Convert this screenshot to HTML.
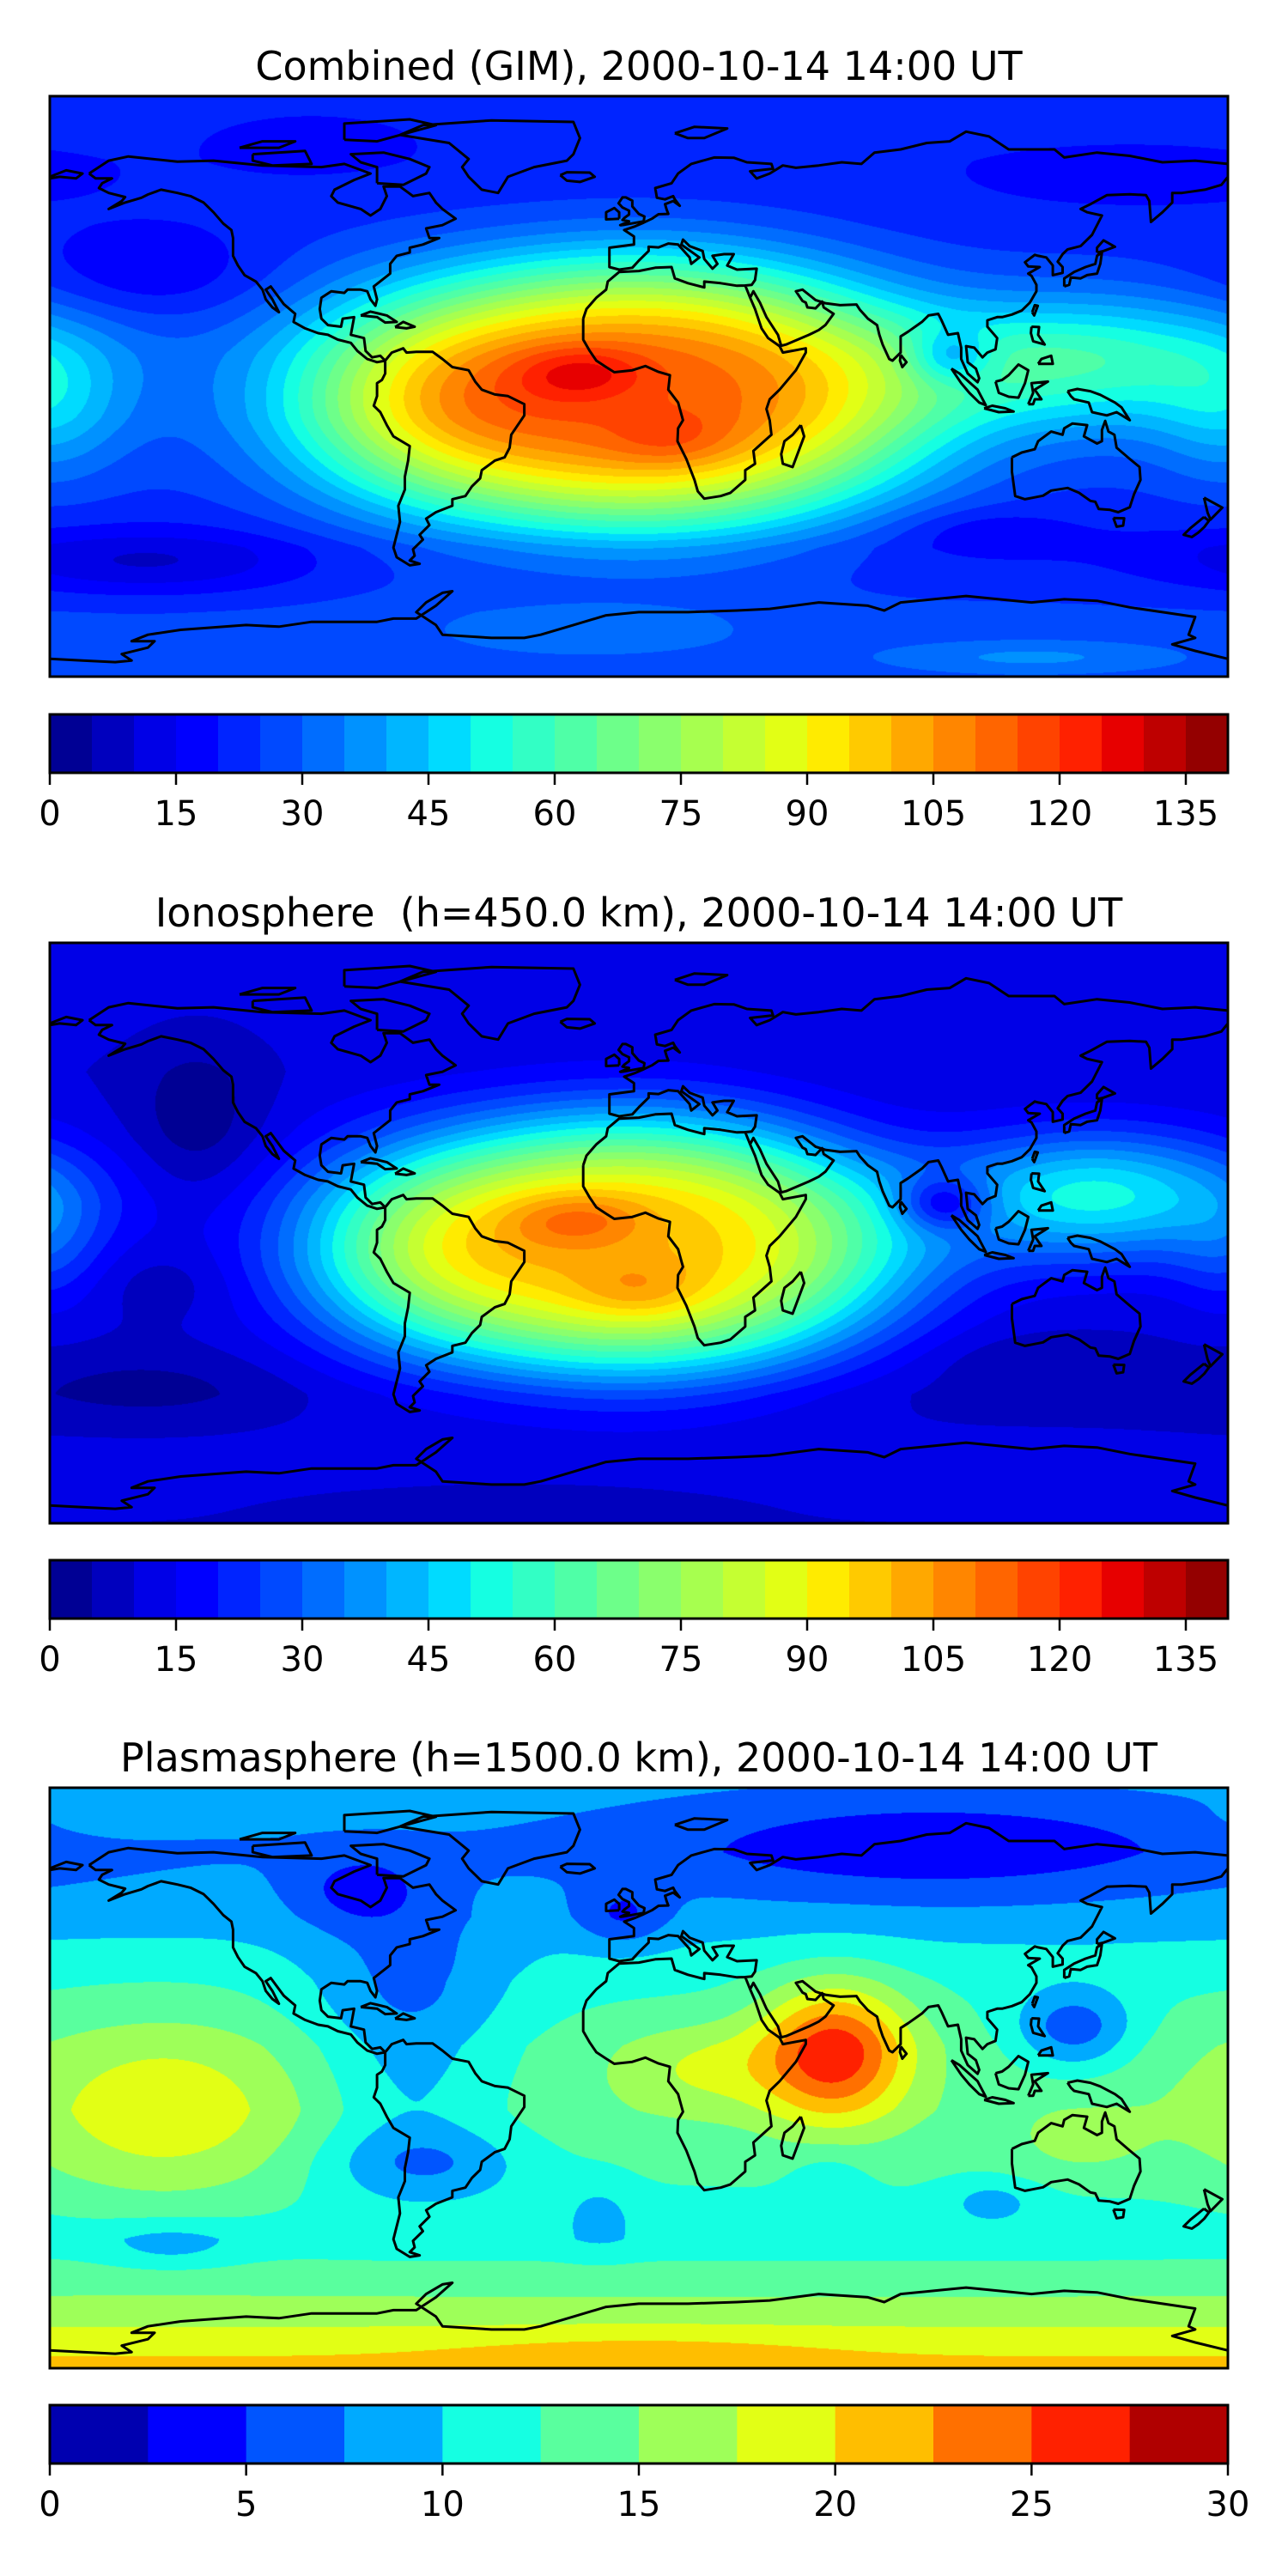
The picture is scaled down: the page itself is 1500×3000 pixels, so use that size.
<!DOCTYPE html>
<html><head><meta charset="utf-8">
<style>
html,body{margin:0;padding:0;background:#fff;}
body{width:1500px;height:3000px;position:relative;overflow:hidden;font-family:"DejaVu Sans","Liberation Sans",sans-serif;}
.title{position:absolute;left:58px;width:1372px;text-align:center;font-size:46px;color:#000;line-height:1;white-space:pre;}
.map{position:absolute;left:58px;width:1372px;height:676px;}
.map canvas{position:absolute;left:0;top:0;}
.map svg{position:absolute;left:0;top:0;overflow:visible;}
.cb{position:absolute;left:28px;overflow:visible;}
</style></head>
<body>
<div class="title" style="top:54px">Combined (GIM), 2000-10-14 14:00 UT</div>
<div class="map" id="m1" style="top:112px"></div>
<svg class="cb" id="cb1" style="top:830px" width="1460" height="150"></svg>

<div class="title" style="top:1040px">Ionosphere  (h=450.0 km), 2000-10-14 14:00 UT</div>
<div class="map" id="m2" style="top:1098px"></div>
<svg class="cb" id="cb2" style="top:1815px" width="1460" height="150"></svg>

<div class="title" style="top:2024px">Plasmasphere (h=1500.0 km), 2000-10-14 14:00 UT</div>
<div class="map" id="m3" style="top:2082px"></div>
<svg class="cb" id="cb3" style="top:2799px" width="1460" height="150"></svg>

<script>
// ---------- data ----------
const profileLats = [90,70,50,30,10,-10,-30,-50,-70,-90];
// Combined (GIM)
const gimProfile = [22,21,22,24,27,27,24,20,26,26];
const gimBumpLon = [0,-18,10,-75,135,95,-180,-150,-150,105,150,-100,-15,120];
const gimBumpLat = [-3,4,-17,-5,8,9,-8,35,-55,-45,65,75,-76,-84];
const gimBumpAmp = [86,14,8,18,32,-22,14,-8,-12,-6,-5,-5,8,10];
const gimBumpSx  = [70,14,14,30,38,9,16,25,35,18,30,20,35,35];
const gimBumpSy  = [33,6,6,25,14,6,16,10,7,5,6,6,6,4];
const gimBumpPow = [1.5,1,1,1,1,1,1,1,1,1,1,1,1,1];
// Ionosphere
const ionProfile = [14,12,10,10,12,12,10,8,12,10];
const ionBumpLon = [-3,-19,0,-75,140,93,-180,-135,-145,-150,120,-40];
const ionBumpLat = [-4,4,-18,-5,12,9,-5,35,-15,-48,-40,-85];
const ionBumpAmp = [86,14,10,18,40,-25,10,-9,-5,-5,-4,-4];
const ionBumpSx  = [66,15,14,28,34,10,12,14,15,30,20,40];
const ionBumpSy  = [32,6,7,25,14,6,15,18,8,8,6,5];
const ionBumpPow = [1.5,1,1,1,1,1,1,1,1,1,1,1];
// Plasmasphere
const plaProfile = [8.5,7.5,9,11.8,13.6,14,12.8,11,15.5,21];
const plaBumpLon = [60,20,-145,90,-85,-5,-70,-65,-70,133,-12,58,108,-143,-158,0,135];
const plaBumpLat = [8,3,-11,72,58,50,25,-27,-10,15,-42,-33,-38,-52,81,-86,-20];
const plaBumpAmp = [13,4,5.5,-4.5,-4,-4,-5,-4.5,-3,-7,-2.5,-2.5,-3,-3,2.5,2,2.5];
const plaBumpSx  = [16,20,30,60,14,10,22,22,20,13,8,8,10,15,15,40,15];
const plaBumpSy  = [15,10,20,12,8,7,18,8,15,9,8,7,5,5,4,5,8];
const plaBumpPow = [1,1,1,1,1,1,1,1,1,1,1,1,1,1,1,1,1];

const gimTicks = [0,15,30,45,60,75,90,105,120,135];
const plaTicks = [0,5,10,15,20,25,30];

// ---------- coastlines (lon,lat) ----------
const coasts = [
[[-168,66],[-162,70],[-156,71.3],[-141,69.7],[-130,70],[-115,68.5],[-97,68],[-90,69],[-82,66],[-87,64],[-93,61],[-94,59],[-92,57],[-85,55],[-82,53],[-79,55],[-77,59],[-78,62],[-73,62],[-69,59],[-64,60],[-62,57],[-60,55],[-56,52],[-60,50],[-65,49],[-64,46],[-61,46],[-66,44],[-70,43],[-70,41.5],[-74,40.5],[-76,38],[-76,35],[-81,31],[-80,27],[-80.5,25],[-82,27],[-83,29.5],[-85,30],[-89,30],[-90,29],[-94,29.5],[-97,27.5],[-97.5,24],[-97,21],[-95,19],[-91,18.5],[-90.5,21],[-87,21.5],[-88,16],[-84,15],[-83.5,11],[-81.5,9],[-79,9.5],[-77.5,8],[-80,7.5],[-83,8.5],[-86,11],[-88,13.5],[-92,14.5],[-95,16],[-98,16.5],[-102,18],[-105.5,20],[-105,22.5],[-108.5,25.5],[-112.5,31],[-114,30],[-112,27],[-110,23],[-112,24.5],[-114,27],[-115,30],[-117,32.5],[-120.5,34.5],[-122.5,37.5],[-124,40.5],[-124,46],[-124.5,48.5],[-127,50.5],[-130,54],[-133,57],[-137,59],[-141,60],[-146,61],[-150,59.5],[-152,58.5],[-157,57],[-162,55],[-158,57.5],[-157,58.7],[-162,60],[-165,61.5],[-164,63],[-161,64.5],[-166,64.5],[-168,66]],
[[-80,63],[-72,62.5],[-65,66],[-64,68],[-70,70.5],[-78,72.5],[-88,72],[-85,69.5],[-80,68],[-80,63]],
[[-118,72],[-102,73],[-100,69],[-112,68.5],[-118,70],[-118,72]],
[[-90,76.5],[-80,76],[-62,81],[-70,82.8],[-90,81.5],[-90,76.5]],
[[-122,74],[-115,76],[-105,76],[-110,74],[-122,74]],
[[-73,78],[-66,81],[-45,82.5],[-20,82],[-18,77],[-20,72],[-22,70],[-32,68],[-40,65],[-43,60],[-48,61],[-52,65],[-54,68],[-52,70.5],[-58,75.5],[-73,78]],
[[-24,65.5],[-22,66.4],[-15,66.3],[-13.5,65],[-18,63.4],[-22,63.8],[-24,65.5]],
[[-77.5,8],[-75.5,10.5],[-72,11.8],[-71,10.5],[-68,10.7],[-63,10.7],[-60,8.5],[-57,6],[-52,5],[-50,1.5],[-48,-1],[-44,-2.5],[-40,-3],[-35,-5.5],[-35,-9],[-37,-12],[-39,-15],[-39.5,-19],[-41,-22],[-44,-23],[-48,-26],[-48.5,-28.5],[-51,-31],[-53,-34],[-57,-35],[-57,-37],[-62,-39],[-65,-41],[-64,-43],[-67,-46],[-66,-47.5],[-69,-50.5],[-68.5,-52.5],[-70,-54],[-67,-55],[-70,-55.5],[-74,-53],[-75,-50],[-74,-46],[-73,-42],[-73.5,-37],[-71.5,-32],[-71.5,-28],[-70.5,-23],[-70,-18.5],[-75,-15.5],[-77,-12],[-79,-8],[-81,-6],[-80,-3],[-80,-1],[-80,1],[-78.5,2],[-77.5,4],[-77.5,7],[-77.5,8]],
[[-17,21],[-16,24],[-13,27.5],[-10,30],[-9.5,32.5],[-6,35.5],[0,35.8],[5,36.8],[10,37],[11,33.5],[15,32],[20,30.7],[20,32.5],[25,32],[30,31.2],[32.5,31.3],[34,27.5],[35.5,24],[37.5,18],[39.5,15],[43,12.5],[44,10.5],[51,11.8],[51,10.5],[48,5],[43,-1],[40,-4],[39,-7],[40,-10.5],[40.5,-15],[35,-20],[35.5,-24],[32.5,-26],[32.5,-29],[28,-33],[25,-34],[20,-34.8],[18,-32.5],[17,-29],[14.5,-22.5],[11.8,-17],[12,-13],[13.5,-10.5],[12,-5],[9,-1],[9.5,3.5],[6,4.5],[2,6.3],[-2,5],[-7.5,4.4],[-10,6],[-13,8],[-15,11],[-17,14.5],[-17,21]],
[[49.5,-12],[50.5,-15.5],[47,-25],[44,-24],[43.5,-21],[44.5,-17],[47,-15],[49.5,-12]],
[[180,69],[170,70],[160,69.5],[150,71.5],[140,72.5],[130,71],[127,73.5],[113,73.5],[107,77.5],[100,79],[95,76],[88,75.5],[80,73.5],[72,72.5],[68,69],[62,69.5],[55,68.5],[48,67.8],[44,68.5],[40,66],[36,64.5],[34,66.7],[41,67.5],[40.5,69],[33,69.5],[29,70.9],[23,71],[16,69],[12,66],[10,63],[5,61.5],[5.5,58.5],[8,58],[10.5,59],[11,58],[12.5,56],[10.5,57.5],[8,56.5],[8.5,54.8],[9,53.5],[6,53.4],[4,52],[1.5,50.8],[-1.5,49.5],[-4.5,48.5],[-1.5,46.5],[-1.5,44],[-9,43],[-9,39],[-9,37],[-6,36.2],[-2,36.8],[0,39],[3,42],[3,43.3],[6,43.1],[9,44.3],[12,44],[15.5,40],[16,38],[18.5,40],[13,44],[13.5,45.5],[15.5,43.5],[19.5,42],[20,39.5],[22.5,36.5],[24,38],[22.5,40.5],[26,41],[29,41],[27,37.5],[30,36.2],[36,36.5],[35.5,33],[34.5,31.5],[32.5,31.3],[34,27.5],[35,29.5],[37,26],[39,21.5],[42.5,16],[43.5,12.6],[45,13],[52,16],[55,17.5],[57,19],[59.5,22.5],[56.5,24.5],[56,26.3],[54,24.2],[51.5,24.5],[51,26],[50,26.5],[48,29.5],[50,30],[54,26.8],[57,25.8],[61.5,25.2],[66.5,25.4],[67.5,23.8],[70,21],[72.8,19],[73.5,16],[74.5,13],[76.5,8.5],[77.5,8],[80,10.5],[80,15.5],[82.3,17],[86.5,20],[88.5,22],[91.5,22.5],[92.5,20.5],[94.5,16],[97.5,16.5],[98.5,12],[98.5,8.5],[100.5,4],[103.5,1.3],[104,2.5],[103,5.5],[100.5,7.5],[100,12.5],[102.5,12],[105,9],[106.5,10.5],[109,11.5],[109.5,15],[106.5,18.5],[106.5,20.5],[109.5,21.5],[111,21.5],[114,22.3],[117,23.5],[119.5,26],[121.5,29.5],[121.5,31.5],[120,34.3],[119,35],[122.5,37],[119,37.2],[118,38.5],[121,40.8],[122,40.5],[124.5,40],[126.5,37.5],[126.5,34.5],[129.5,35.2],[129.5,37],[128,38.7],[129.5,41],[131,42.5],[135,43.5],[138.5,47],[140.5,51],[141.5,53],[137,54],[135,55],[138,56.5],[143,59.3],[150,59.6],[155,59.3],[156,57.5],[156.5,51],[160,54],[163,57],[163,60],[166,60],[173,61],[178,62.5],[180,65]],
[[-180,65],[-175,67],[-170,66],[-172,64.5],[-177,65],[-180,64.5]],
[[-5,50],[1.5,51.2],[1.7,52.7],[0,53.5],[-2,55.8],[-2,57.6],[-4,58.6],[-5,58.6],[-6.2,56.8],[-5,55.5],[-3,54.5],[-3,53.3],[-4.5,52.2],[-5,51.6],[-3,51.2],[-5.7,50],[-5,50]],
[[-6,52],[-6,54],[-7.5,55.3],[-10,54],[-10,51.8],[-6,52]],
[[11,78.5],[17,80.5],[27,80],[20,77],[15,77],[11,78.5]],
[[130,31],[131.5,31.5],[132,33.8],[135,33.5],[137,34.5],[140,35],[141,38],[141.5,41.5],[140,40.5],[139.5,38],[136.5,37],[133,35.5],[130,33.5],[130,31]],
[[140,41.5],[142,42],[145.5,43.3],[142,45.3],[140,43],[140,41.5]],
[[109,1.5],[111,2],[113,3.5],[116,6.8],[119,5],[118,1],[116,-3.5],[113,-3.2],[110,-2],[109,1.5]],
[[95.5,5.5],[98,4],[103.5,-1],[106,-5.8],[104,-5],[101,-2],[98.5,1],[95.5,5.5]],
[[105.5,-6.8],[108,-6],[112,-6.8],[114.5,-7.8],[110,-8],[105.5,-6.8]],
[[119,-5.5],[120.5,-2],[120,1],[125,1.5],[121,-1],[123,-4],[121,-4],[120.5,-5.5],[119,-5.5]],
[[131,-1.5],[134,-0.8],[138,-1.5],[141,-2.6],[145.5,-5],[147.5,-6.5],[150,-10.5],[146,-8],[143,-9],[138.5,-8],[137.5,-5],[133,-4],[132,-3],[131,-1.5]],
[[120,18.5],[122.3,18.4],[122,16],[124,13],[120.5,14],[119.8,16.5],[120,18.5]],
[[122,7],[126.5,7],[126,9.5],[123,8.5],[122,7]],
[[120.2,23],[121,25.2],[121.9,25],[120.8,22],[120.2,23]],
[[80,9.8],[81.8,7.5],[80.5,6],[79.8,8],[80,9.8]],
[[114,-22],[114,-26.5],[115,-34],[118,-35],[123.5,-33.9],[126,-32.3],[131,-31.5],[134.5,-33],[138,-35.5],[139.5,-35.8],[140.5,-38],[144,-38.3],[146.5,-39],[150,-37.5],[151.3,-33.5],[153.3,-29],[153,-25],[150,-22.5],[146,-19],[145.3,-15],[143.5,-14],[142.5,-10.7],[141.5,-13.5],[141.5,-17],[140,-17.7],[136,-15.5],[137,-12],[132.5,-11.5],[130,-13],[129.5,-15],[126,-14],[122,-17],[121,-19.5],[117,-20.5],[114,-22]],
[[145,-40.8],[148.3,-40.9],[148,-43.2],[146,-43.5],[145,-40.8]],
[[172.7,-34.5],[178.3,-37.6],[174.7,-41.3],[173.8,-39.2],[172.7,-34.5]],
[[172.7,-40.5],[174.2,-41.7],[172.8,-43.6],[171,-45.3],[169,-46.7],[166.5,-46],[168.5,-44],[172.7,-40.5]],
[[-85,22],[-82,23.2],[-77,22],[-74,20],[-77.5,19.8],[-80,21.5],[-85,22]],
[[-74.5,18.4],[-72,20],[-68.5,18.5],[-71,18],[-74.5,18.4]],
[[-180,-84.5],[-170,-85],[-160,-85.5],[-155,-85],[-158,-83],[-150,-81],[-148,-79],[-155,-79],[-150,-77],[-140,-75.5],[-120,-74],[-110,-74.5],[-100,-73],[-90,-73],[-80,-73],[-75,-72],[-68,-72],[-62,-68],[-57,-63.5],[-60,-64],[-65,-67],[-68,-70],[-62,-74],[-60,-77],[-45,-78],[-35,-78],[-30,-77],[-20,-74],[-10,-71],[0,-70],[15,-70],[30,-69.5],[40,-69],[55,-67],[70,-68],[75,-69.5],[80,-67],[90,-66],[100,-65],[110,-66],[120,-67],[130,-66],[140,-66.5],[150,-68.5],[160,-70],[170,-71.5],[168,-77],[170,-78],[163,-80],[170,-82],[180,-84.5]]
];

// ---------- helpers ----------
function jet(t){
  function seg(pts){for(let i=1;i<pts.length;i++){if(t<=pts[i][0]){const a=pts[i-1],b=pts[i];return a[1]+(b[1]-a[1])*(t-a[0])/(b[0]-a[0]);}}return pts[pts.length-1][1];}
  const r=seg([[0,0],[0.35,0],[0.66,1],[0.89,1],[1,0.5]]);
  const g=seg([[0,0],[0.125,0],[0.375,1],[0.64,1],[0.91,0],[1,0]]);
  const b=seg([[0,0.5],[0.11,1],[0.34,1],[0.65,0],[1,0]]);
  return [Math.round(r*255),Math.round(g*255),Math.round(b*255)];
}
function levelColors(n){const c=[];for(let i=0;i<n;i++)c.push(jet((i+0.5)/n));return c;}
function profileAt(lat,prof){
  for(let i=1;i<profileLats.length;i++){if(lat>=profileLats[i]){const a=profileLats[i-1],b=profileLats[i];return prof[i-1]+(prof[i]-prof[i-1])*(lat-a)/(b-a);}}
  return prof[prof.length-1];
}
const W=1372,H=676;
function drawMap(id,prof,bl,bt,ba,bsx,bsy,bp,vmax,n,name){
  const host=document.getElementById(id);
  const cv=document.createElement('canvas');cv.width=W;cv.height=H;
  
  
  host.appendChild(cv);
  const ctx=cv.getContext('2d');const img=ctx.createImageData(W,H);const d=img.data;
  const cols=levelColors(n);const step=vmax/n;
  const nb=bl.length;
  const dx2=new Float32Array(nb*W);
  for(let x=0;x<W;x++){const lon=-180+(x+0.5)/W*360;
    for(let k=0;k<nb;k++){let dl=lon-bl[k];while(dl>180)dl-=360;while(dl<-180)dl+=360;const u=dl/bsx[k];dx2[k*W+x]=u*u;}}
  const dy2=new Float32Array(nb);
  for(let y=0;y<H;y++){const lat=90-(y+0.5)/H*180;const base=profileAt(lat,prof);
    for(let k=0;k<nb;k++){const v=(lat-bt[k])/bsy[k];dy2[k]=v*v;}
    for(let x=0;x<W;x++){let v=base;
      for(let k=0;k<nb;k++){const r2=dx2[k*W+x]+dy2[k];if(r2>40)continue;
        v+=ba[k]*Math.exp(-0.5*(bp[k]===1?r2:Math.pow(r2,bp[k])));}
      let li=Math.floor(v/step);if(li<0)li=0;if(li>n-1)li=n-1;
      const c=cols[li];const o=(y*W+x)*4;d[o]=c[0];d[o+1]=c[1];d[o+2]=c[2];d[o+3]=255;}}
  ctx.putImageData(img,0,0);
  const ns='http://www.w3.org/2000/svg';
  const svg=document.createElementNS(ns,'svg');svg.setAttribute('width',W);svg.setAttribute('height',H);
  
  
  let dstr='';
  coasts.forEach(poly=>{let prev=null;poly.forEach(p=>{const x=(p[0]+180)/360*W,y=(90-p[1])/180*H;
    if(prev===null||Math.abs(p[0]-prev)>180)dstr+='M'+x.toFixed(1)+' '+y.toFixed(1);else dstr+='L'+x.toFixed(1)+' '+y.toFixed(1);prev=p[0];});});
  const path=document.createElementNS(ns,'path');path.setAttribute('d',dstr);path.setAttribute('fill','none');
  path.setAttribute('stroke','#000');path.setAttribute('stroke-width','3');path.setAttribute('stroke-linejoin','round');
  
  
  svg.appendChild(path);
  const fr=document.createElementNS(ns,'rect');fr.setAttribute('x',0);fr.setAttribute('y',0);fr.setAttribute('width',W);fr.setAttribute('height',H);
  fr.setAttribute('fill','none');fr.setAttribute('stroke','#000');fr.setAttribute('stroke-width','3');
  
  
  svg.appendChild(fr);
  host.appendChild(svg);
}
function drawColorbar(id,vmax,n,ticks,name){
  const svg=document.getElementById(id);const ns='http://www.w3.org/2000/svg';
  const cols=levelColors(n);const h=68;const off=30;
  const xs=v=>off+v/vmax*W;
  for(let i=0;i<n;i++){const r=document.createElementNS(ns,'rect');
    const x0=xs(i*vmax/n),x1=xs((i+1)*vmax/n);
    r.setAttribute('x',x0);r.setAttribute('y',2);r.setAttribute('width',x1-x0+0.5);r.setAttribute('height',h);
    r.setAttribute('fill','rgb('+cols[i].join(',')+')');
    
    
    svg.appendChild(r);}
  const fr=document.createElementNS(ns,'rect');fr.setAttribute('x',off);fr.setAttribute('y',2);fr.setAttribute('width',W);fr.setAttribute('height',h);
  fr.setAttribute('fill','none');fr.setAttribute('stroke','#000');fr.setAttribute('stroke-width','3');
  
  
  svg.appendChild(fr);
  ticks.forEach(t=>{const x=xs(t);
    const l=document.createElementNS(ns,'line');l.setAttribute('x1',x);l.setAttribute('x2',x);l.setAttribute('y1',h+2);l.setAttribute('y2',h+16);
    l.setAttribute('stroke','#000');l.setAttribute('stroke-width','2.5');
    
    
    svg.appendChild(l);
    const tx=document.createElementNS(ns,'text');tx.setAttribute('x',x);tx.setAttribute('y',h+63);tx.setAttribute('text-anchor','middle');
    tx.setAttribute('font-size','40');tx.setAttribute('font-family','DejaVu Sans, Liberation Sans, sans-serif');tx.textContent=String(t);
    
    
    svg.appendChild(tx);});
}
drawMap('m1',gimProfile,gimBumpLon,gimBumpLat,gimBumpAmp,gimBumpSx,gimBumpSy,gimBumpPow,140,28,'combined');
drawMap('m2',ionProfile,ionBumpLon,ionBumpLat,ionBumpAmp,ionBumpSx,ionBumpSy,ionBumpPow,140,28,'ionosphere');
drawMap('m3',plaProfile,plaBumpLon,plaBumpLat,plaBumpAmp,plaBumpSx,plaBumpSy,plaBumpPow,30,12,'plasmasphere');
drawColorbar('cb1',140,28,gimTicks,'combined-colorbar');
drawColorbar('cb2',140,28,gimTicks,'ionosphere-colorbar');
drawColorbar('cb3',30,12,plaTicks,'plasmasphere-colorbar');
</script>
</body></html>
